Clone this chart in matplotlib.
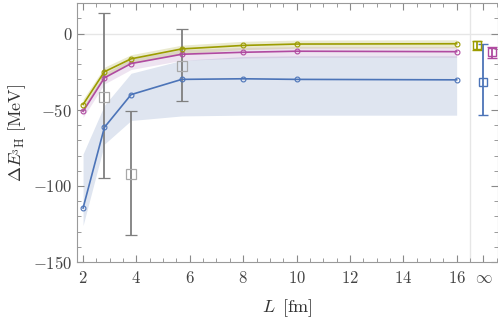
import numpy as np
import matplotlib
matplotlib.use("Agg")
import matplotlib.pyplot as plt
from matplotlib.ticker import MultipleLocator

plt.rcParams['mathtext.fontset'] = 'cm'
plt.rcParams['font.family'] = 'serif'
plt.rcParams['font.serif'] = ['cmr10', 'DejaVu Serif']
plt.rcParams['axes.formatter.use_mathtext'] = True

# box sizes L [fm]
L = [2.0, 2.8, 3.8, 5.7, 8.0, 10.0, 16.0]

# three finite-volume series
yellow = [-46.5, -25.0, -16.5, -10.0, -7.7, -6.8, -6.6]
yellow_lo = [-49.5, -28.0, -19.5, -13.0, -10.5, -9.5, -9.3]
yellow_hi = [-43.0, -22.0, -13.8, -7.5, -5.0, -4.2, -4.0]

magenta = [-51.0, -29.0, -19.6, -13.5, -12.2, -11.5, -11.8]
magenta_lo = [-55.0, -33.0, -23.5, -17.5, -16.0, -15.5, -15.5]
magenta_hi = [-48.0, -26.0, -16.5, -10.5, -9.0, -8.5, -8.5]

blue = [-114.5, -61.5, -40.0, -30.0, -29.6, -30.0, -30.3]
blue_lo = [-126.0, -72.5, -57.0, -54.0, -53.5, -53.5, -53.5]
blue_hi = [-79.0, -47.0, -26.0, -17.5, -15.0, -14.5, -14.5]

# gray reference points with error bars
L_ref = [2.8, 3.8, 5.7]
ref = [-41.5, -92.0, -21.0]
ref_hi = [13.4, -50.5, 3.3]
ref_lo = [-94.5, -132.0, -44.0]

# infinite-volume extrapolations
x_inf = [16.78, 16.98, 17.31]
inf_val = [-7.7, -32.0, -12.0]
inf_hi = [-4.6, -7.0, -8.5]
inf_lo = [-10.5, -53.7, -16.0]

c_yellow = '#9c9c00'
c_magenta = '#b04aa0'
c_blue = '#4c74b8'
c_gray = '#7f7f7f'

fig = plt.figure(figsize=(4.98, 3.24), dpi=100)
ax = fig.add_axes([0.155, 0.191, 0.845, 0.799])

ax.axhline(0, color='#e6e6e6', lw=1.0, zorder=0)
ax.axvline(16.5, color='#e6e6e6', lw=1.0, zorder=0)

ax.fill_between(L, blue_lo, blue_hi, color='#dfe5f0', lw=0, zorder=1)
ax.fill_between(L, magenta_lo, magenta_hi, color='#9a5aa8', alpha=0.16, lw=0, zorder=2)
ax.fill_between(L, yellow_lo, yellow_hi, color='#a0a020', alpha=0.22, lw=0, zorder=3)

for y, c in [(blue, c_blue), (magenta, c_magenta), (yellow, c_yellow)]:
    ax.plot(L, y, color=c, lw=1.2, marker='o', ms=3.5, mfc='none', mew=0.8, zorder=5)

ref = np.array(ref)
ax.errorbar(L_ref, ref, yerr=[ref - np.array(ref_lo), np.array(ref_hi) - ref],
            fmt='s', ms=6.5, mfc='none', mec='#a8a8a8', mew=0.9, ecolor=c_gray,
            elinewidth=1.3, capsize=4, capthick=1.3, zorder=4)

inf_val = np.array(inf_val)
for i, c in enumerate([c_yellow, c_blue, c_magenta]):
    ax.errorbar([x_inf[i]], [inf_val[i]],
                yerr=[[inf_val[i] - inf_lo[i]], [inf_hi[i] - inf_val[i]]],
                fmt='s', ms=6, mfc='none', mec=c, mew=1.0, ecolor=c,
                elinewidth=1.3, capsize=3.5, capthick=1.3, zorder=6)

ax.set_xlim(1.78, 17.55)
ax.set_ylim(-150, 20)
ax.set_xticks([2, 4, 6, 8, 10, 12, 14, 16, 17])
ax.set_xticklabels(['$2$', '$4$', '$6$', '$8$', '$10$', '$12$', '$14$', '$16$', r'$\infty$'])
ax.xaxis.set_minor_locator(MultipleLocator(0.5))
ax.set_yticks([0, -50, -100, -150])
ax.set_yticklabels(['$0$', '$-50$', '$-100$', '$-150$'])
ax.yaxis.set_minor_locator(MultipleLocator(10))

ax.tick_params(which='both', direction='in', top=True, right=True, colors='#8a8a8a',
               labelcolor='#444444', labelsize=12)
ax.tick_params(axis='x', which='major', pad=6)
ax.tick_params(which='major', length=5, width=0.8)
ax.tick_params(which='minor', length=3, width=0.6)
for s in ax.spines.values():
    s.set_color('#9a9a9a')
    s.set_linewidth(0.8)

ax.set_xlabel(r'$L\ \,[\mathrm{fm}]$', fontsize=13, color='#333333', labelpad=8)
ax.set_ylabel(r'$\Delta E_{{}^3\mathrm{H}}\ [\mathrm{MeV}]$', fontsize=13, color='#333333')

fig.savefig('out.png', dpi=100)
